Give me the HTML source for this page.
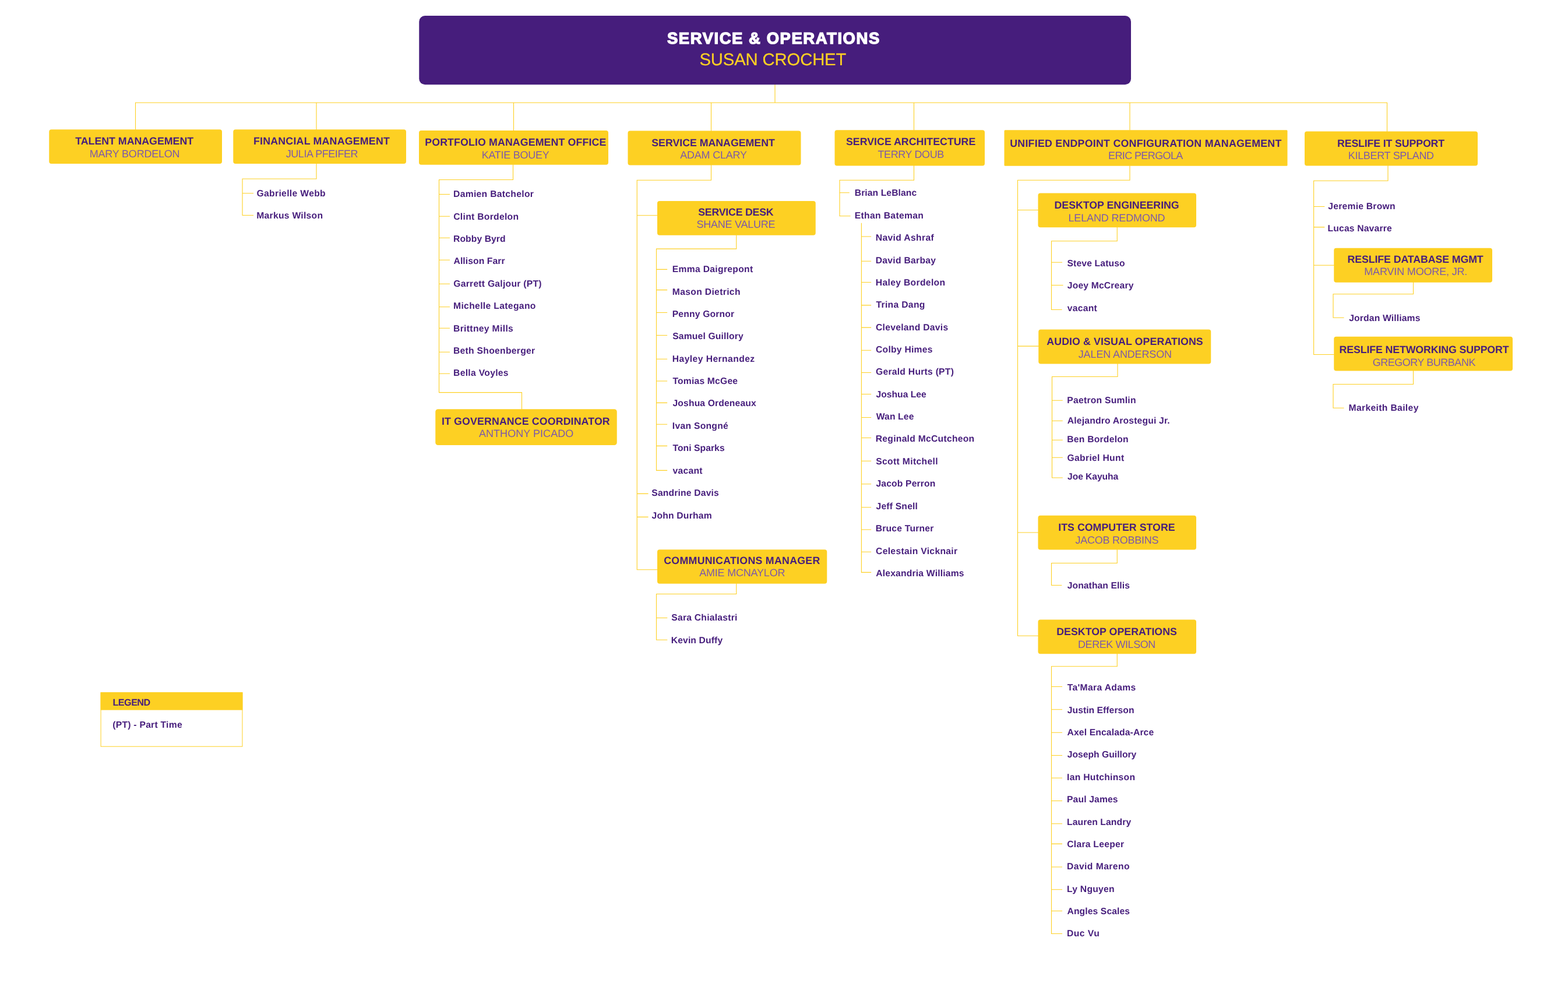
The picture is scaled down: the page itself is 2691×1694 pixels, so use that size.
<!DOCTYPE html>
<html lang="en">
<head>
<meta charset="utf-8">
<title>Service &amp; Operations Organization Chart</title>
<style>
html,body{margin:0;padding:0;background:#fff}
body{width:2691px;height:1694px;overflow:hidden}
#chart{position:absolute;left:0;top:0;width:2691px;height:1694px;overflow:hidden;background:#fff;font-family:"Liberation Sans",Arial,Helvetica,sans-serif;color:#461D7C;will-change:transform}
#art{position:absolute;left:0;top:0;width:2691px;height:1694px}
#art .ln{fill:none;stroke:#FDD023;stroke-width:1.1;stroke-linecap:square}
#art .bx{fill:#FDD023}
#art .rt{fill:#461D7C}
#art .lg{fill:#fff;stroke:#FDD023;stroke-width:1}
.box,.legend{position:absolute}
.t,.s,.n{position:absolute;white-space:nowrap;line-height:1;margin:0;text-rendering:geometricPrecision}
.t{font-size:17.8px;font-weight:700;}
.s{font-size:18.0px;font-weight:400;color:#7350b4;-webkit-text-stroke:0.1px #FDD023;}
.n{font-size:15.7px;font-weight:700;}
.root .t{font-size:27.5px;color:#fff;-webkit-text-stroke:1.4px #fff;}
.root .s{font-size:29.3px;color:#FDD023;-webkit-text-stroke:0.2px #FDD023;}
.legend .t{font-size:16.2px;}
</style>
</head>
<body>
<div id="chart">
<svg id="art" viewBox="0 0 2691 1694" width="2691" height="1694" aria-hidden="true">
<path class="ln" d="M232.5 176.25H2380.5M416 307H543M416 331.75H434.5M416 369.5H434.5M753.5 308.5H880.5M753.5 333.5H771.5M753.5 371.25H771.5M753.5 408.25H771.5M753.5 446.25H771.5M753.5 487.25H771.5M753.5 526.75H771.5M753.5 563.25H771.5M753.5 604.25H771.5M753.5 641.25H771.5M753.5 673.6H895.5M1093.25 309.25H1220.5M1093.25 369.75H1128M1093.25 847.4H1112M1093.25 887.4H1112M1093.25 977.75H1128M1126.5 427.1H1263.75M1126.5 462.4H1144.6M1126.5 497.6H1144.6M1126.5 536.5H1144.6M1126.5 575.5H1144.6M1126.5 616.25H1144.6M1126.5 654H1144.6M1126.5 691.4H1144.6M1126.5 728.25H1144.6M1126.5 765.4H1144.6M1126.5 807.4H1144.6M1126.5 1019.5H1263.75M1126.5 1060.5H1144.75M1126.5 1098.25H1144.75M1441 309.25H1568.5M1441 330.75H1457.25M1441 370.75H1459M1478.4 406H1494.6M1478.4 448.25H1494.6M1478.4 484.5H1494.6M1478.4 523.9H1494.6M1478.4 562.1H1494.6M1478.4 601.25H1494.6M1478.4 639.5H1494.6M1478.4 676.5H1494.6M1478.4 716.5H1494.6M1478.4 751.5H1494.6M1478.4 791.25H1494.6M1478.4 830.75H1494.6M1478.4 870.75H1494.6M1478.4 909H1494.6M1478.4 947.2H1494.6M1478.4 982.4H1494.6M1746.5 309.25H1939M1746.5 360.5H1781.5M1746.5 594.1H1782.25M1746.5 914H1781.5M1746.5 1091.25H1781.5M1804.5 413.75H1917.25M1804.5 450.25H1822.5M1804.5 489.5H1824M1804.5 531.5H1822M1805.5 646.5H1918M1805.5 687.25H1823.25M1805.5 722.25H1823.25M1805.5 755.25H1823.25M1805.5 785.25H1823.25M1805.5 820H1823.25M1804.5 966.5H1917.25M1804.5 1004.5H1821.75M1804.5 1143.75H1917.25M1804.5 1178.5H1822.5M1804.5 1217.75H1822.5M1804.5 1257.25H1822.5M1804.5 1296.5H1822.5M1804.5 1335.25H1822.5M1804.5 1374.5H1822.5M1804.5 1413.75H1822.5M1804.5 1448.4H1822.5M1804.5 1488H1822.5M1804.5 1526.75H1822.5M1804.5 1563.5H1822.5M1804.5 1602.5H1822.5M2254.6 310.25H2382M2254.6 354.5H2272.75M2254.6 389.9H2272.75M2254.6 455.25H2289.25M2254.6 608.5H2289.25M2288 504.75H2425.5M2288 545.25H2306M2288 659.5H2425.5M2288 700.25H2306M1330 145.25V176.25M232.5 176.25V222.25M543 176.25V222.25M881.5 176.25V224M1220.5 176.25V224.5M1568.5 176.25V223.25M1939 176.25V223.25M2380.5 176.25V225.5M543 281V307M416 307V369.5M880.5 282.75V308.5M753.5 308.5V673.6M895.5 673.6V702.25M1220.5 283.5V309.25M1093.25 309.25V977.75M1263.75 403.75V427.1M1126.5 427.1V807.4M1263.75 1001.75V1019.5M1126.5 1019.5V1098.25M1568.5 284.5V309.25M1441 309.25V370.75M1478.4 383.25V982.4M1939 284.75V309.25M1746.5 309.25V1091.25M1917.25 390.25V413.75M1804.5 413.75V531.5M1918 624.5V646.5M1805.5 646.5V820M1917.25 943.5V966.5M1804.5 966.5V1004.5M1917.25 1122.25V1143.75M1804.5 1143.75V1602.5M2382 284.5V310.25M2254.6 310.25V608.5M2425.5 484.75V504.75M2288 504.75V545.25M2425.5 636.5V659.5M2288 659.5V700.25"/>
<rect class="rt" x="719.25" y="27" width="1221.75" height="118.25" rx="10"/>
<rect class="bx" x="84.25" y="222.25" width="296.75" height="58.85" rx="4"/>
<rect class="bx" x="400.25" y="222.25" width="296.75" height="58.85" rx="4"/>
<rect class="bx" x="719" y="224" width="325" height="58.75" rx="4"/>
<rect class="bx" x="1077.5" y="224.5" width="297" height="59" rx="4"/>
<rect class="bx" x="1432.5" y="223.25" width="257.5" height="61.25" rx="4"/>
<rect class="bx" x="1723.5" y="223.25" width="486" height="61.5" rx="1.5"/>
<rect class="bx" x="2239" y="225.5" width="297" height="59" rx="4"/>
<rect class="bx" x="747.25" y="702.25" width="311.5" height="61.75" rx="4.5"/>
<rect class="bx" x="1128" y="345" width="271.75" height="58.75" rx="4"/>
<rect class="bx" x="1128" y="943.25" width="291.25" height="58.5" rx="4"/>
<rect class="bx" x="1781.5" y="331.5" width="271.5" height="58.75" rx="4"/>
<rect class="bx" x="1782.25" y="565.5" width="296" height="59" rx="4"/>
<rect class="bx" x="1781.5" y="884.75" width="271.5" height="58.75" rx="4"/>
<rect class="bx" x="1781.5" y="1063.5" width="271.5" height="58.75" rx="4"/>
<rect class="bx" x="2289.25" y="425.75" width="271.75" height="59" rx="4"/>
<rect class="bx" x="2289.25" y="577.75" width="306.75" height="58.75" rx="4"/>
<rect class="lg" x="173.1" y="1188.7" width="242.8" height="92.5"/>
<rect class="bx" x="172.6" y="1188.2" width="243.8" height="30.5"/>
</svg>
<div class="box root" style="left:719px;top:27px;width:1222px;height:119px"><div class="t" style="left:426px;top:25px;letter-spacing:1.53px">SERVICE &amp; OPERATIONS</div><div class="s" style="left:481.5px;top:61px;letter-spacing:-0.17px">SUSAN CROCHET</div></div>
<div class="box" style="left:84px;top:222px;width:297px;height:60px"><div class="t" style="left:45.25px;top:12px;letter-spacing:-0.02px">TALENT MANAGEMENT</div><div class="s" style="left:69.75px;top:33px;letter-spacing:-0.21px">MARY BORDELON</div></div>
<div class="box" style="left:400px;top:222px;width:297px;height:60px"><div class="t" style="left:35px;top:12px;letter-spacing:0.21px">FINANCIAL MANAGEMENT</div><div class="s" style="left:90.75px;top:33px;letter-spacing:-0.44px">JULIA PFEIFER</div></div>
<div class="box" style="left:719px;top:224px;width:325px;height:59px"><div class="t" style="left:10.25px;top:12px;letter-spacing:0.11px">PORTFOLIO MANAGEMENT OFFICE</div><div class="s" style="left:107.75px;top:33px;letter-spacing:-0.28px">KATIE BOUEY</div></div>
<div class="box" style="left:1077px;top:224px;width:298px;height:60px"><div class="t" style="left:41.25px;top:13px;letter-spacing:-0.03px">SERVICE MANAGEMENT</div><div class="s" style="left:90.25px;top:33px;letter-spacing:-0.22px">ADAM CLARY</div></div>
<div class="box" style="left:1432px;top:223px;width:258px;height:62px"><div class="t" style="left:20px;top:12px;letter-spacing:0px">SERVICE ARCHITECTURE</div><div class="s" style="left:74.5px;top:33px;letter-spacing:-0.39px">TERRY DOUB</div></div>
<div class="box" style="left:1723px;top:223px;width:487px;height:62px"><div class="t" style="left:10.25px;top:15px;letter-spacing:0.25px">UNIFIED ENDPOINT CONFIGURATION MANAGEMENT</div><div class="s" style="left:179px;top:35px;letter-spacing:-0.61px">ERIC PERGOLA</div></div>
<div class="box" style="left:2239px;top:225px;width:297px;height:60px"><div class="t" style="left:56px;top:13px;letter-spacing:-0.15px">RESLIFE IT SUPPORT</div><div class="s" style="left:74.75px;top:33px;letter-spacing:-0.31px">KILBERT SPLAND</div></div>
<div class="box" style="left:747px;top:702px;width:312px;height:62px"><div class="t" style="left:11px;top:13px;letter-spacing:0.12px">IT GOVERNANCE COORDINATOR</div><div class="s" style="left:75px;top:33px;letter-spacing:0.04px">ANTHONY PICADO</div></div>
<div class="box" style="left:1128px;top:345px;width:272px;height:59px"><div class="t" style="left:70.25px;top:11px;letter-spacing:-0.25px">SERVICE DESK</div><div class="s" style="left:67.5px;top:31px;letter-spacing:-0.25px">SHANE VALURE</div></div>
<div class="box" style="left:1128px;top:943px;width:292px;height:59px"><div class="t" style="left:11.25px;top:11px;letter-spacing:0.27px">COMMUNICATIONS MANAGER</div><div class="s" style="left:72.25px;top:31px;letter-spacing:-0.21px">AMIE MCNAYLOR</div></div>
<div class="box" style="left:1781px;top:331px;width:272px;height:60px"><div class="t" style="left:28.5px;top:13px;letter-spacing:-0.03px">DESKTOP ENGINEERING</div><div class="s" style="left:52.5px;top:34px;letter-spacing:-0.15px">LELAND REDMOND</div></div>
<div class="box" style="left:1782px;top:565px;width:297px;height:60px"><div class="t" style="left:14.25px;top:13px;letter-spacing:0.1px">AUDIO &amp; VISUAL OPERATIONS</div><div class="s" style="left:68.75px;top:34px;letter-spacing:-0.13px">JALEN ANDERSON</div></div>
<div class="box" style="left:1781px;top:884px;width:272px;height:60px"><div class="t" style="left:35.25px;top:13px;letter-spacing:0.01px">ITS COMPUTER STORE</div><div class="s" style="left:64.5px;top:34px;letter-spacing:-0.25px">JACOB ROBBINS</div></div>
<div class="box" style="left:1781px;top:1063px;width:272px;height:60px"><div class="t" style="left:32.25px;top:13px;letter-spacing:0.01px">DESKTOP OPERATIONS</div><div class="s" style="left:69px;top:34px;letter-spacing:-0.43px">DEREK WILSON</div></div>
<div class="box" style="left:2289px;top:425px;width:272px;height:60px"><div class="t" style="left:23.5px;top:12px;letter-spacing:-0.11px">RESLIFE DATABASE MGMT</div><div class="s" style="left:52.25px;top:32px;letter-spacing:-0.16px">MARVIN MOORE, JR.</div></div>
<div class="box" style="left:2289px;top:577px;width:307px;height:60px"><div class="t" style="left:9.5px;top:15px;letter-spacing:-0.13px">RESLIFE NETWORKING SUPPORT</div><div class="s" style="left:66.75px;top:36px;letter-spacing:-0.48px">GREGORY BURBANK</div></div>
<div class="n" style="left:440.5px;top:325px;letter-spacing:0.33px">Gabrielle Webb</div>
<div class="n" style="left:440.25px;top:363px;letter-spacing:0.27px">Markus Wilson</div>
<div class="n" style="left:778px;top:326px;letter-spacing:0.3px">Damien Batchelor</div>
<div class="n" style="left:778.25px;top:365px;letter-spacing:0.29px">Clint Bordelon</div>
<div class="n" style="left:778px;top:403px;letter-spacing:0.08px">Robby Byrd</div>
<div class="n" style="left:778.5px;top:441px;letter-spacing:0.09px">Allison Farr</div>
<div class="n" style="left:778.25px;top:480px;letter-spacing:0.25px">Garrett Galjour (PT)</div>
<div class="n" style="left:778px;top:518px;letter-spacing:0.34px">Michelle Lategano</div>
<div class="n" style="left:778px;top:557px;letter-spacing:0.33px">Brittney Mills</div>
<div class="n" style="left:778px;top:595px;letter-spacing:0.28px">Beth Shoenberger</div>
<div class="n" style="left:778px;top:633px;letter-spacing:0.3px">Bella Voyles</div>
<div class="n" style="left:1153.75px;top:455px;letter-spacing:0.3px">Emma Daigrepont</div>
<div class="n" style="left:1153.75px;top:494px;letter-spacing:0.33px">Mason Dietrich</div>
<div class="n" style="left:1153.75px;top:532px;letter-spacing:0.16px">Penny Gornor</div>
<div class="n" style="left:1154.25px;top:570px;letter-spacing:0.14px">Samuel Guillory</div>
<div class="n" style="left:1153.75px;top:609px;letter-spacing:0.42px">Hayley Hernandez</div>
<div class="n" style="left:1154.5px;top:647px;letter-spacing:0.18px">Tomias McGee</div>
<div class="n" style="left:1154.5px;top:685px;letter-spacing:0.13px">Joshua Ordeneaux</div>
<div class="n" style="left:1153.75px;top:724px;letter-spacing:0.28px">Ivan Songné</div>
<div class="n" style="left:1154.5px;top:762px;letter-spacing:0.05px">Toni Sparks</div>
<div class="n" style="left:1154.5px;top:801px;letter-spacing:0.25px">vacant</div>
<div class="n" style="left:1118.25px;top:839px;letter-spacing:0.17px">Sandrine Davis</div>
<div class="n" style="left:1118.5px;top:878px;letter-spacing:0.2px">John Durham</div>
<div class="n" style="left:1152.25px;top:1053px;letter-spacing:0.23px">Sara Chialastri</div>
<div class="n" style="left:1151.75px;top:1092px;letter-spacing:0.12px">Kevin Duffy</div>
<div class="n" style="left:1466.75px;top:324px;letter-spacing:0.08px">Brian LeBlanc</div>
<div class="n" style="left:1466.75px;top:363px;letter-spacing:0.33px">Ethan Bateman</div>
<div class="n" style="left:1502.75px;top:401px;letter-spacing:0.34px">Navid Ashraf</div>
<div class="n" style="left:1502.75px;top:440px;letter-spacing:0.27px">David Barbay</div>
<div class="n" style="left:1502.75px;top:478px;letter-spacing:0.33px">Haley Bordelon</div>
<div class="n" style="left:1503.5px;top:516px;letter-spacing:0.31px">Trina Dang</div>
<div class="n" style="left:1503px;top:555px;letter-spacing:0.27px">Cleveland Davis</div>
<div class="n" style="left:1503px;top:593px;letter-spacing:0.25px">Colby Himes</div>
<div class="n" style="left:1503px;top:631px;letter-spacing:0.25px">Gerald Hurts (PT)</div>
<div class="n" style="left:1503.5px;top:670px;letter-spacing:0px">Joshua Lee</div>
<div class="n" style="left:1503.75px;top:708px;letter-spacing:0.12px">Wan Lee</div>
<div class="n" style="left:1502.75px;top:746px;letter-spacing:0.26px">Reginald McCutcheon</div>
<div class="n" style="left:1503.25px;top:785px;letter-spacing:0.33px">Scott Mitchell</div>
<div class="n" style="left:1503.5px;top:823px;letter-spacing:0.14px">Jacob Perron</div>
<div class="n" style="left:1503.5px;top:862px;letter-spacing:0.19px">Jeff Snell</div>
<div class="n" style="left:1502.75px;top:900px;letter-spacing:0.2px">Bruce Turner</div>
<div class="n" style="left:1503px;top:939px;letter-spacing:0.31px">Celestain Vicknair</div>
<div class="n" style="left:1503.25px;top:977px;letter-spacing:0.18px">Alexandria Williams</div>
<div class="n" style="left:1831.5px;top:445px;letter-spacing:0.14px">Steve Latuso</div>
<div class="n" style="left:1831.75px;top:483px;letter-spacing:0.17px">Joey McCreary</div>
<div class="n" style="left:1831.75px;top:522px;letter-spacing:0.25px">vacant</div>
<div class="n" style="left:1831.25px;top:680px;letter-spacing:0.25px">Paetron Sumlin</div>
<div class="n" style="left:1831.75px;top:715px;letter-spacing:0.18px">Alejandro Arostegui Jr.</div>
<div class="n" style="left:1831.25px;top:747px;letter-spacing:0.23px">Ben Bordelon</div>
<div class="n" style="left:1831.5px;top:779px;letter-spacing:0.32px">Gabriel Hunt</div>
<div class="n" style="left:1832px;top:811px;letter-spacing:-0.08px">Joe Kayuha</div>
<div class="n" style="left:1831.75px;top:998px;letter-spacing:0.06px">Jonathan Ellis</div>
<div class="n" style="left:1831.75px;top:1173px;letter-spacing:0.33px">Ta'Mara Adams</div>
<div class="n" style="left:1831.75px;top:1212px;letter-spacing:0.04px">Justin Efferson</div>
<div class="n" style="left:1831.5px;top:1250px;letter-spacing:0.13px">Axel Encalada-Arce</div>
<div class="n" style="left:1831.75px;top:1288px;letter-spacing:0px">Joseph Guillory</div>
<div class="n" style="left:1831px;top:1327px;letter-spacing:0.29px">Ian Hutchinson</div>
<div class="n" style="left:1831px;top:1365px;letter-spacing:0.14px">Paul James</div>
<div class="n" style="left:1831px;top:1404px;letter-spacing:0.1px">Lauren Landry</div>
<div class="n" style="left:1831.25px;top:1442px;letter-spacing:0.25px">Clara Leeper</div>
<div class="n" style="left:1831px;top:1480px;letter-spacing:0.43px">David Mareno</div>
<div class="n" style="left:1831px;top:1519px;letter-spacing:0.25px">Ly Nguyen</div>
<div class="n" style="left:1831.5px;top:1557px;letter-spacing:0.1px">Angles Scales</div>
<div class="n" style="left:1831px;top:1595px;letter-spacing:0.45px">Duc Vu</div>
<div class="n" style="left:2279.25px;top:347px;letter-spacing:0.23px">Jeremie Brown</div>
<div class="n" style="left:2278.5px;top:385px;letter-spacing:0.17px">Lucas Navarre</div>
<div class="n" style="left:2315.25px;top:539px;letter-spacing:0.14px">Jordan Williams</div>
<div class="n" style="left:2314.5px;top:693px;letter-spacing:0.34px">Markeith Bailey</div>
<div class="legend" style="left:173px;top:1188px;width:243px;height:94px"><div class="t" style="left:20.5px;top:10px;letter-spacing:-0.55px">LEGEND</div><div class="n" style="left:20.25px;top:49px;letter-spacing:0.25px">(PT) - Part Time</div></div>
</div>
</body>
</html>
